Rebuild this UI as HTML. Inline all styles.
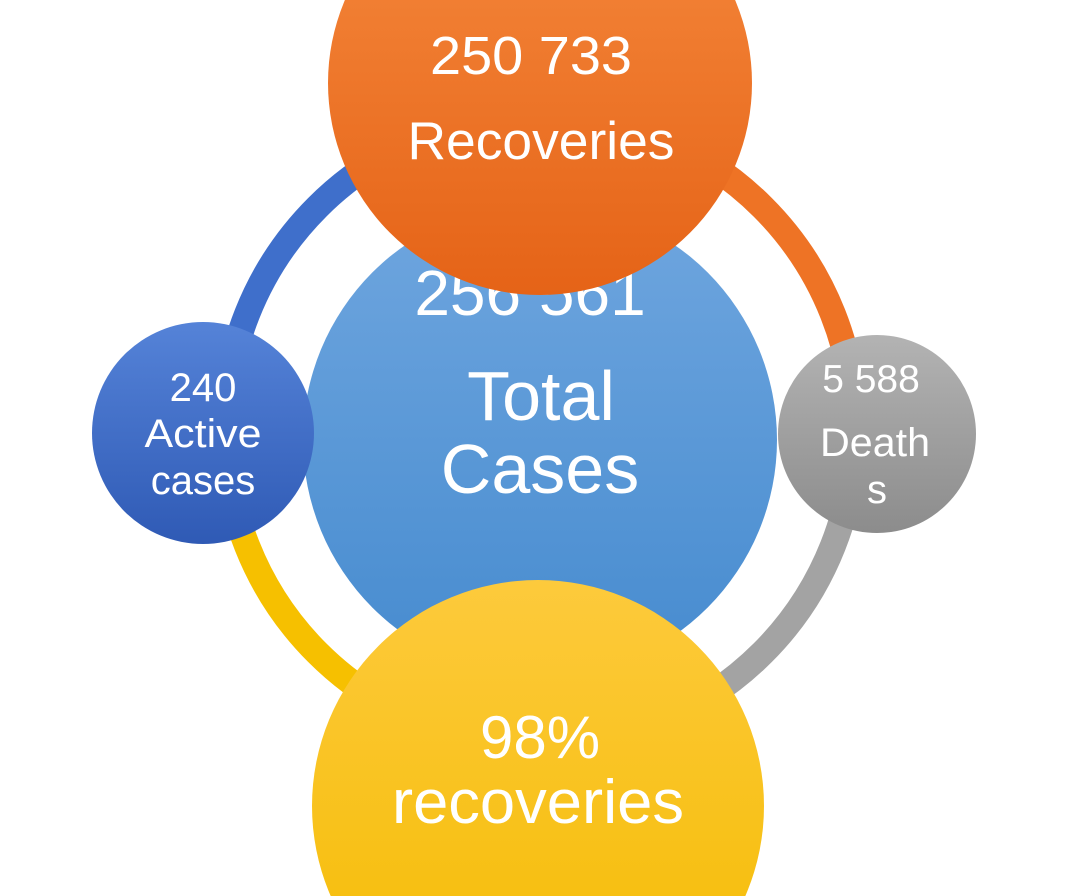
<!DOCTYPE html>
<html><head><meta charset="utf-8"><style>
html,body{margin:0;padding:0;background:#fff;width:1080px;height:896px;overflow:hidden}
svg{display:block}
text{font-family:"Liberation Sans",sans-serif;fill:#fff;text-anchor:middle}
</style></head><body>
<svg width="1080" height="896" viewBox="0 0 1080 896" xmlns="http://www.w3.org/2000/svg">
<defs>
<linearGradient id="gb" x1="0" y1="0" x2="0" y2="1"><stop offset="0" stop-color="#6fa6df"/><stop offset="1" stop-color="#468bcf"/></linearGradient>
<linearGradient id="go" x1="0" y1="0" x2="0" y2="1"><stop offset="0" stop-color="#f68a3e"/><stop offset="1" stop-color="#e56317"/></linearGradient>
<linearGradient id="gy" x1="0" y1="0" x2="0" y2="1"><stop offset="0" stop-color="#fdca3c"/><stop offset="1" stop-color="#f4bb00"/></linearGradient>
<linearGradient id="gd" x1="0" y1="0" x2="0" y2="1"><stop offset="0" stop-color="#5583d8"/><stop offset="1" stop-color="#2f5ab5"/></linearGradient>
<linearGradient id="gg" x1="0" y1="0" x2="0" y2="1"><stop offset="0" stop-color="#b3b3b3"/><stop offset="1" stop-color="#8c8c8c"/></linearGradient>
</defs>
<path d="M225 430 A315 315 0 0 1 540 115" fill="none" stroke="#3f6fcb" stroke-width="26"/>
<path d="M540 115 A315 315 0 0 1 855 430" fill="none" stroke="#ee7325" stroke-width="26"/>
<path d="M855 430 A315 315 0 0 1 540 745" fill="none" stroke="#a3a3a3" stroke-width="26"/>
<path d="M540 745 A315 315 0 0 1 225 430" fill="none" stroke="#f6c000" stroke-width="26"/>
<circle cx="540" cy="440" r="237" fill="url(#gb)"/>
<text x="530" y="315" font-size="64">256 561</text>
<text x="541" y="420" font-size="70">Total</text>
<text x="540" y="493" font-size="70">Cases</text>
<circle cx="540" cy="83" r="212" fill="url(#go)"/>
<text x="531" y="74" font-size="54" textLength="202" lengthAdjust="spacingAndGlyphs">250 733</text>
<text x="541" y="159" font-size="53" textLength="267" lengthAdjust="spacingAndGlyphs">Recoveries</text>
<circle cx="538" cy="806" r="226" fill="url(#gy)"/>
<text x="540" y="758" font-size="60">98%</text>
<text x="538" y="823" font-size="62" textLength="292" lengthAdjust="spacingAndGlyphs">recoveries</text>
<circle cx="203" cy="433" r="111" fill="url(#gd)"/>
<text x="203" y="401" font-size="40">240</text>
<text x="203" y="447" font-size="40" textLength="117" lengthAdjust="spacingAndGlyphs">Active</text>
<text x="203" y="494" font-size="40">cases</text>
<circle cx="877" cy="434" r="99" fill="url(#gg)"/>
<text x="871" y="392" font-size="39">5 588</text>
<text x="875" y="456" font-size="40" textLength="110" lengthAdjust="spacingAndGlyphs">Death</text>
<text x="877" y="503" font-size="40">s</text>
</svg>
</body></html>
